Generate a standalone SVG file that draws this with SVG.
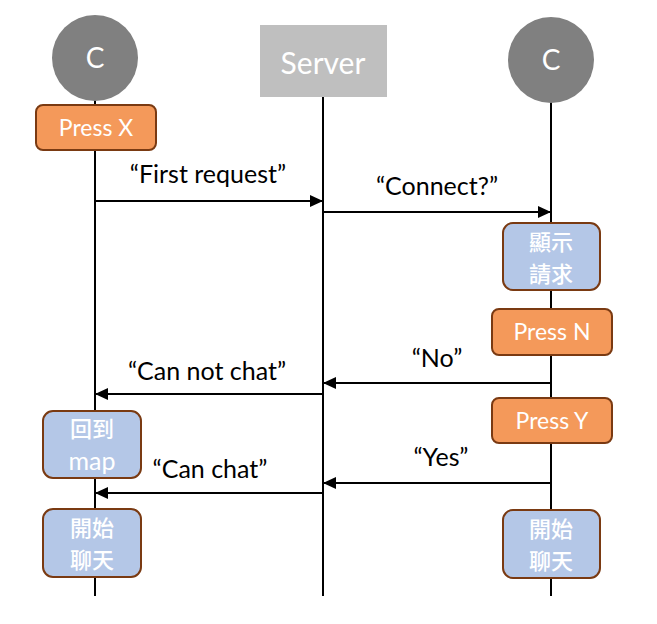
<svg xmlns="http://www.w3.org/2000/svg" width="657" height="624" viewBox="0 0 657 624">
<style>
.life{stroke:#000;stroke-width:2;fill:none}
.msg{stroke:#000;stroke-width:2;fill:none;marker-end:url(#ah)}
.lbl{font-family:Lato,"Noto Sans","Noto Sans CJK TC",sans-serif;font-size:25px;fill:#000;text-anchor:middle}
.ob{fill:#f4995a;stroke:#7a3a12;stroke-width:2}
.bb{fill:#b4c7e7;stroke:#7a3a12;stroke-width:2}
.wt{font-family:Lato,"Noto Sans","Noto Sans CJK TC",sans-serif;font-size:23px;fill:#fff;text-anchor:middle}
.cj{font-family:"Noto Sans CJK TC","Noto Sans",sans-serif;font-size:22px;font-weight:500;fill:#fff;text-anchor:middle}
</style>
<defs>
<marker id="ah" markerWidth="13" markerHeight="12" refX="13" refY="6" orient="auto" markerUnits="userSpaceOnUse">
<path d="M0,0 L13,6 L0,12 Z" fill="#000"/>
</marker>
</defs>
<rect width="657" height="624" fill="#fff"/>
<g id="lifelines">
<line class="life" x1="95" y1="100" x2="95" y2="596"/>
<line class="life" x1="323" y1="97" x2="323" y2="596"/>
<line class="life" x1="551" y1="100" x2="551" y2="596"/>
</g>
<g id="connectors">
<line class="msg" x1="95" y1="201" x2="323" y2="201"/>
<line class="msg" x1="323" y1="212" x2="551" y2="212"/>
<line class="msg" x1="551" y1="383" x2="323" y2="383"/>
<line class="msg" x1="323" y1="394" x2="95" y2="394"/>
<line class="msg" x1="551" y1="483" x2="323" y2="483"/>
<line class="msg" x1="323" y1="493" x2="95" y2="493"/>
<text class="lbl" x="208" y="183">“First request”</text>
<text class="lbl" x="437" y="195">“Connect?”</text>
<text class="lbl" x="437" y="367">“No”</text>
<text class="lbl" x="207" y="380">“Can not chat”</text>
<text class="lbl" x="441" y="466">“Yes”</text>
<text class="lbl" x="210" y="478">“Can chat”</text>
</g>
<g id="clientA">
<circle cx="95" cy="58" r="43" fill="#808080"/>
<text class="wt" x="95" y="68" style="font-size:28px">C</text>
</g>
<g id="server">
<rect x="260" y="25" width="127" height="72" fill="#bfbfbf"/>
<text class="wt" x="323" y="74" style="font-size:30px">Server</text>
</g>
<g id="clientB">
<circle cx="551" cy="60" r="43" fill="#808080"/>
<text class="wt" x="551" y="70" style="font-size:28px">C</text>
</g>
<g id="pressX">
<rect class="ob" x="36" y="105" width="120" height="45" rx="7"/>
<text class="wt" x="96" y="136">Press X</text>
</g>
<g id="showRequest">
<rect class="bb" x="503" y="223" width="97" height="67" rx="10"/>
<text class="cj" x="551" y="250">顯示</text>
<text class="cj" x="551" y="282">請求</text>
</g>
<g id="pressN">
<rect class="ob" x="492" y="309" width="120" height="46" rx="7"/>
<text class="wt" x="552" y="340">Press N</text>
</g>
<g id="pressY">
<rect class="ob" x="492" y="398" width="120" height="45" rx="7"/>
<text class="wt" x="552" y="429">Press Y</text>
</g>
<g id="backToMap">
<rect class="bb" x="43" y="411" width="98" height="67" rx="10"/>
<text class="cj" x="92" y="437">回到</text>
<text class="wt" x="92" y="470" style="font-size:25px">map</text>
</g>
<g id="startChatA">
<rect class="bb" x="43" y="509" width="98" height="68" rx="10"/>
<text class="cj" x="92" y="536">開始</text>
<text class="cj" x="92" y="568">聊天</text>
</g>
<g id="startChatB">
<rect class="bb" x="503" y="510" width="97" height="68" rx="10"/>
<text class="cj" x="551" y="537">開始</text>
<text class="cj" x="551" y="569">聊天</text>
</g>
</svg>
